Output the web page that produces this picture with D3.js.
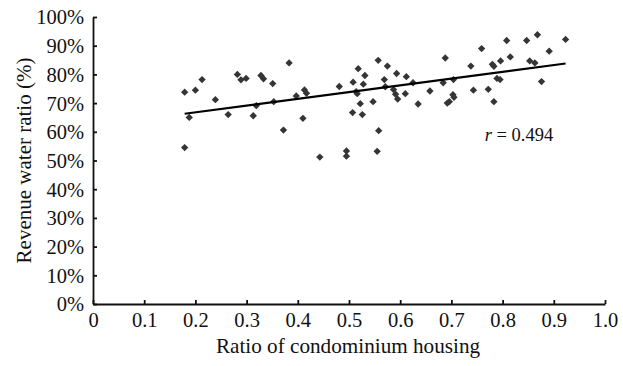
<!DOCTYPE html>
<html>
<head>
<meta charset="utf-8">
<script src="https://cdn.jsdelivr.net/npm/d3@7"></script>
<style>
  body { margin: 0; background: #fff; }
  .axis path, .axis line { stroke: #111; stroke-width: 1.8; }
</style>
</head>
<body>
<div id="chart"></div>
<script>
// ratio of condominium housing (x) and revenue water ratio in % (y)
var xVals = [0.179, 0.188, 0.200, 0.213, 0.179, 0.239, 0.264, 0.282, 0.289, 0.299,
             0.313, 0.319, 0.328, 0.333, 0.351, 0.353, 0.372, 0.383, 0.397, 0.413,
             0.417, 0.410, 0.443, 0.481, 0.495, 0.495, 0.508, 0.514, 0.516, 0.518,
             0.522, 0.507, 0.526, 0.528, 0.531, 0.547, 0.557, 0.558, 0.555, 0.569,
             0.571, 0.575, 0.587, 0.591, 0.595, 0.593, 0.610, 0.612, 0.625, 0.635,
             0.658, 0.684, 0.688, 0.692, 0.696, 0.704, 0.703, 0.705, 0.738, 0.743,
             0.759, 0.772, 0.780, 0.783, 0.783, 0.789, 0.795, 0.796, 0.808, 0.815,
             0.847, 0.853, 0.863, 0.868, 0.876, 0.891, 0.923]
var yVals = [73.8, 65.0, 74.5, 78.2, 54.5, 71.2, 66.0, 80.0, 78.1, 78.6,
             65.6, 69.1, 79.6, 78.5, 76.8, 70.5, 60.6, 84.0, 72.5, 74.6,
             73.4, 64.7, 51.2, 75.8, 53.3, 51.5, 77.3, 74.0, 73.3, 82.0,
             69.8, 66.7, 66.0, 76.6, 79.6, 70.5, 84.9, 60.4, 53.2, 78.2,
             75.7, 82.9, 74.7, 73.1, 71.4, 80.3, 73.3, 79.2, 77.1, 69.7,
             74.2, 77.1, 85.7, 70.0, 70.5, 78.2, 72.9, 72.0, 82.9, 74.5,
             89.0, 74.8, 83.5, 82.8, 70.5, 78.6, 78.2, 84.7, 91.8, 86.1,
             91.8, 84.7, 84.0, 93.8, 77.5, 88.1, 92.2]

// fitted line, end points
var trendX = [0.179, 0.923]
var trendY = [66.3, 83.8]

var xTicks = [0, 0.1, 0.2, 0.3, 0.4, 0.5, 0.6, 0.7, 0.8, 0.9, 1.0]
var yTicks = [0, 10, 20, 30, 40, 50, 60, 70, 80, 90, 100]
var rLabel = "0.494"

var FONT = "'Liberation Serif', serif"

var W = 623, H = 366
var margin = {left: 93, right: 18, top: 17, bottom: 62}
var width = W - margin.left - margin.right
var height = H - margin.top - margin.bottom

var svg = d3.select('#chart').append('svg')
  .attr('width', W)
  .attr('height', H)

var g = svg.append('g')
  .attr('transform', 'translate(' + margin.left + ',' + margin.top + ')')

var x = d3.scaleLinear().domain([0, 1]).range([0, width])
var y = d3.scaleLinear().domain([0, 100]).range([height, 0])

var xAxis = d3.axisBottom(x)
  .tickValues(xTicks)
  .tickSizeInner(-4)
  .tickSizeOuter(0)
  .tickPadding(8)
  .tickFormat(function(d){ return d == 0 ? '0' : d3.format('.1f')(d) })

var yAxis = d3.axisLeft(y)
  .tickValues(yTicks)
  .tickSizeInner(-4)
  .tickSizeOuter(0)
  .tickPadding(9)
  .tickFormat(function(d){ return d + '%' })

g.append('g')
  .attr('class', 'axis')
  .attr('transform', 'translate(0,' + height + ')')
  .call(xAxis)
  .selectAll('text')
  .style('font-family', FONT)
  .style('font-size', '20.5px')
  .attr('fill', '#111')

g.append('g')
  .attr('class', 'axis')
  .call(yAxis)
  .selectAll('text')
  .style('font-family', FONT)
  .style('font-size', '20.5px')
  .attr('fill', '#111')
  .attr('dy', '0.34em')

// points
var points = xVals.map(function(d, i){ return {x: d, y: yVals[i]} })
var diamond = d3.symbol().type(d3.symbolSquare).size(27)

g.selectAll('path.pt')
  .data(points)
  .enter().append('path')
  .attr('class', 'pt')
  .attr('d', diamond)
  .attr('fill', '#353535')
  .attr('transform', function(d){
    return 'translate(' + x(d.x) + ',' + y(d.y) + ') rotate(45)'
  })

// trend line
var line = d3.line()
  .x(function(d){ return x(d[0]) })
  .y(function(d){ return y(d[1]) })

g.append('path')
  .attr('d', line(trendX.map(function(d, i){ return [d, trendY[i]] })))
  .attr('fill', 'none')
  .attr('stroke', '#000')
  .attr('stroke-width', 2.2)

// r label
var rText = g.append('text')
  .attr('x', x(0.765))
  .attr('y', y(56.8))
  .style('font-family', FONT)
  .style('font-size', '18.5px')
  .attr('fill', '#111')
rText.append('tspan').style('font-style', 'italic').text('r')
rText.append('tspan').text(' = ' + rLabel)

// axis titles
svg.append('text')
  .attr('x', margin.left + x(0.5) - 1)
  .attr('y', 353)
  .attr('text-anchor', 'middle')
  .style('font-family', FONT)
  .style('font-size', '21.2px')
  .attr('fill', '#111')
  .text('Ratio of condominium housing')

svg.append('text')
  .attr('transform', 'translate(31,' + (margin.top + y(50)) + ') rotate(-90)')
  .attr('text-anchor', 'middle')
  .style('font-family', FONT)
  .style('font-size', '21px')
  .attr('fill', '#111')
  .text('Revenue water ratio (%)')
</script>
</body>
</html>
